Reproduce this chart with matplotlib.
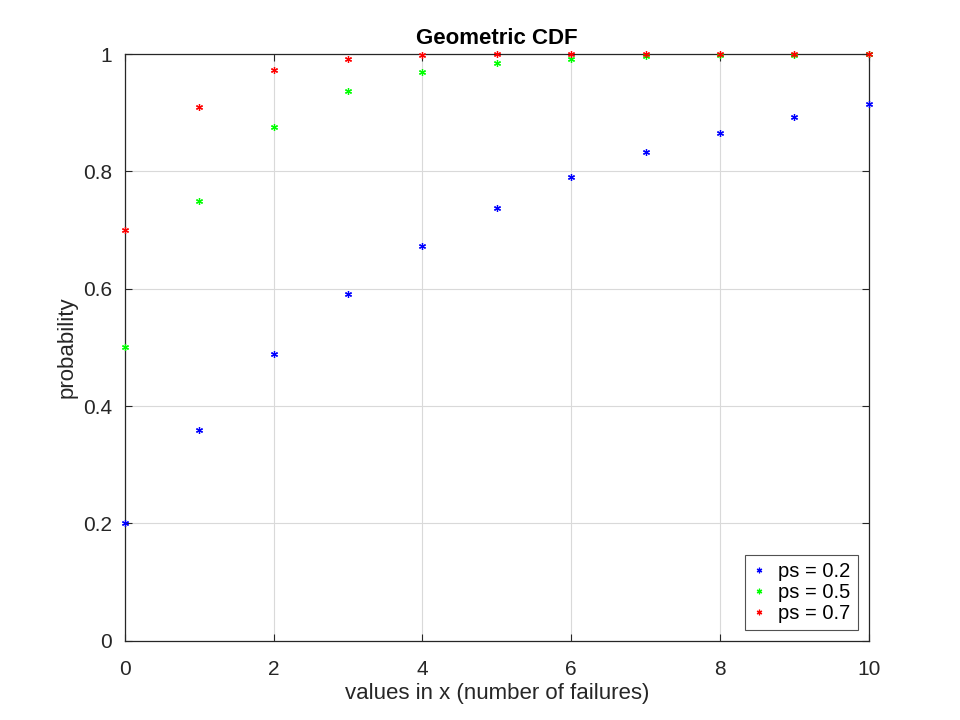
import matplotlib
matplotlib.use('Agg')
import matplotlib.pyplot as plt

# values (geometric CDF, x = number of failures)
x = [0, 1, 2, 3, 4, 5, 6, 7, 8, 9, 10]
cdf_02 = [0.2, 0.36, 0.488, 0.5904, 0.6723, 0.7379, 0.7903, 0.8322, 0.8658, 0.8926, 0.9141]
cdf_05 = [0.5, 0.75, 0.875, 0.9375, 0.9688, 0.9844, 0.9922, 0.9961, 0.998, 0.999, 0.9995]
cdf_07 = [0.7, 0.91, 0.973, 0.9919, 0.9976, 0.9993, 0.9998, 0.9999, 1.0, 1.0, 1.0]
labels = ['ps = 0.2', 'ps = 0.5', 'ps = 0.7']
colors = ['#0000ff', '#00ff00', '#ff0000']

plt.rcParams['font.family'] = ['Liberation Sans', 'DejaVu Sans']

fig = plt.figure(figsize=(9.6, 7.2), dpi=100)
ax = fig.add_axes([0.13, 0.11, 0.775, 0.815])

star = (6, 2, 0)
for ys, lab, c in zip([cdf_02, cdf_05, cdf_07], labels, colors):
    ax.plot(x, ys, linestyle='none', marker=star, markersize=5,
            markeredgewidth=0.9, color=c, label=lab, clip_on=False, zorder=3)

ax.set_xlim(0, 10)
ax.set_ylim(0, 1)
ax.set_xticks([0, 2, 4, 6, 8, 10])
ax.set_yticks([0, 0.2, 0.4, 0.6, 0.8, 1])
ax.set_yticklabels(['0', '0.2', '0.4', '0.6', '0.8', '1'])
ax.grid(True, color='#d9d9d9', linewidth=0.8)
ax.set_axisbelow(True)
ax.tick_params(direction='in', top=True, right=True, labelsize=15,
               length=5, color='#262626', labelcolor='#262626')
ax.tick_params(axis='x', pad=14)
ax.tick_params(axis='y', pad=9)
for s in ax.spines.values():
    s.set_color('#262626')
    s.set_linewidth(0.9)

ax.set_title('Geometric CDF', fontsize=16, fontweight='bold', pad=7)
ax.set_xlabel('values in x (number of failures)', fontsize=16, color='#262626', labelpad=3)
ax.set_ylabel('probability', fontsize=16, color='#262626', labelpad=4)

leg = ax.legend(loc='lower right', fontsize=14.5, frameon=True, fancybox=False,
                edgecolor='#262626', handlelength=0.7, handletextpad=0.6,
                borderpad=0.35, labelspacing=0.1, borderaxespad=0.55,
                markerscale=0.8)
leg.get_frame().set_linewidth(0.8)

fig.savefig('out.png', dpi=100)
